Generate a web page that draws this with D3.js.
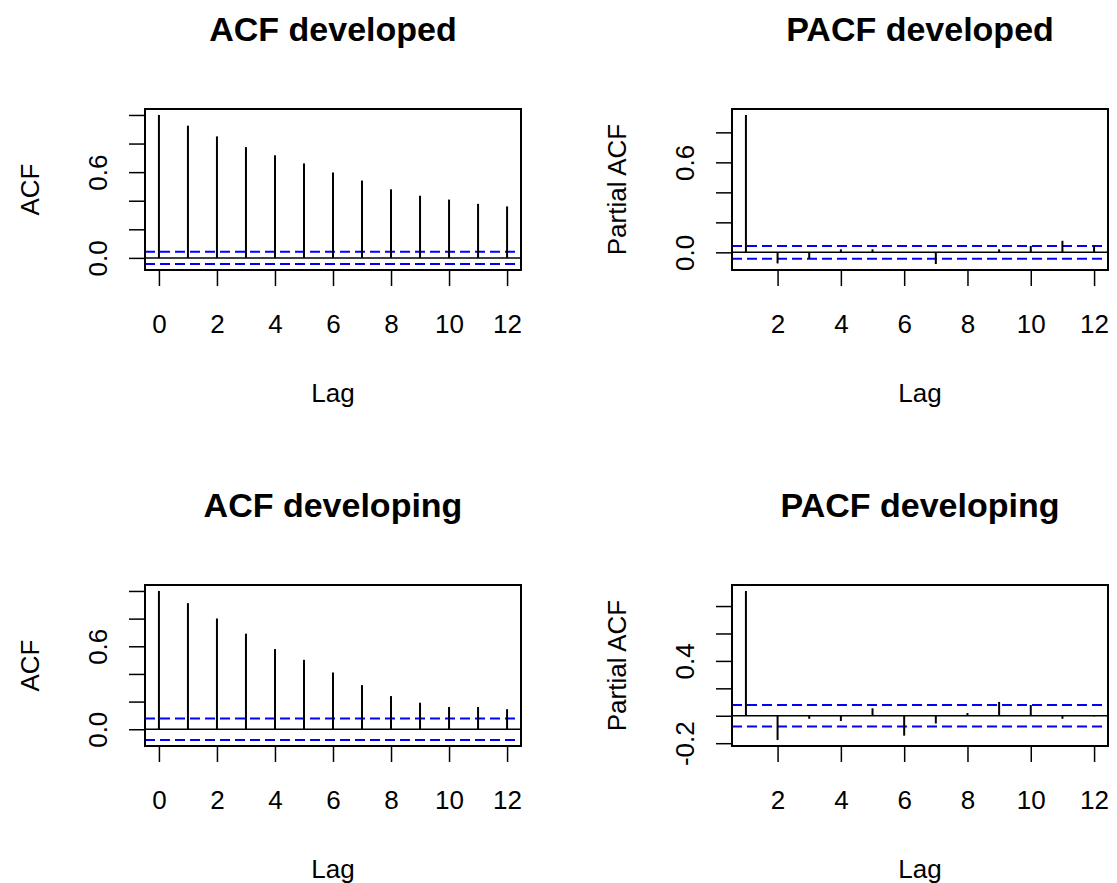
<!DOCTYPE html>
<html>
<head>
<meta charset="utf-8">
<script src="https://cdn.jsdelivr.net/npm/d3@7"></script>
<style>
  body { margin: 0; background: #fff; }
  svg { display: block; font-family: "Liberation Sans", Arial, sans-serif; }
</style>
</head>
<body>
<svg id="chart" width="1117" height="883"></svg>
<script>
const acfLags = [0, 1, 2, 3, 4, 5, 6, 7, 8, 9, 10, 11, 12];
const pacfLags = [1, 2, 3, 4, 5, 6, 7, 8, 9, 10, 11, 12];

const acfDeveloped = [1.0, 0.925, 0.850, 0.775, 0.718, 0.661, 0.598, 0.541, 0.480, 0.435, 0.408, 0.378, 0.360];
const pacfDeveloped = [0.916, -0.074, -0.042, 0.020, 0.020, 0.003, -0.078, 0.003, 0.020, 0.043, 0.077, 0.043];
const acfDeveloping = [1.0, 0.912, 0.801, 0.691, 0.580, 0.502, 0.410, 0.319, 0.240, 0.192, 0.161, 0.161, 0.145];
const pacfDeveloping = [0.910, -0.177, -0.022, -0.038, 0.054, -0.145, -0.056, 0.020, 0.101, 0.078, -0.022, -0.004];

// 95% bands drawn by R's acf()/pacf()
const ciDeveloped = 0.043;
const ciDeveloping = 0.078;

const acfXTicks = [0, 2, 4, 6, 8, 10, 12];
const pacfXTicks = [2, 4, 6, 8, 10, 12];
const acfDevelopedYLabels = [0.0, 0.6];
const pacfDevelopedYLabels = [0.0, 0.6];
const acfDevelopingYLabels = [0.0, 0.6];
const pacfDevelopingYLabels = [-0.2, 0.4];

class Correlogram {
  constructor(parent, box) {
    this.parent = parent;
    this.box = box;
  }

  draw(p) {
    const { left, top, width, height } = this.box;
    const g = d3.select(this.parent).append("g")
      .attr("transform", "translate(" + left + "," + top + ")");

    // R pads both ranges by 4%
    const lo = d3.min([-p.ci, ...p.values]);
    const hi = d3.max([p.ci, ...p.values]);
    const yPad = (hi - lo) * 0.04;
    const y = d3.scaleLinear().domain([lo - yPad, hi + yPad]).range([height, 0]);

    const xLo = d3.min(p.lags), xHi = d3.max(p.lags);
    const xPad = (xHi - xLo) * 0.04;
    const x = d3.scaleLinear().domain([xLo - xPad, xHi + xPad]).range([0, width]);

    const xAxis = g.append("g")
      .attr("transform", "translate(0," + height + ")")
      .call(d3.axisBottom(x).tickValues(p.xTicks).tickSize(16).tickFormat(d3.format("d")));
    xAxis.attr("font-size", 26).attr("font-family", null);
    xAxis.select(".domain").remove();
    xAxis.selectAll("line").attr("stroke", "#000").attr("stroke-width", 1.5);
    xAxis.selectAll("text").attr("y", 63).attr("dy", null).attr("fill", "#000");

    const shown = d => p.yLabels.some(v => Math.abs(v - d) < 1e-9);
    const yAxis = g.append("g")
      .call(d3.axisLeft(y).tickValues(y.ticks(5)).tickSize(16)
        .tickFormat(d => shown(d) ? d.toFixed(1) : ""));
    yAxis.attr("font-size", 26).attr("font-family", null);
    yAxis.select(".domain").remove();
    yAxis.selectAll("line").attr("stroke", "#000").attr("stroke-width", 1.5);
    yAxis.selectAll("text")
      .attr("x", 0).attr("y", 0).attr("dy", null)
      .attr("text-anchor", "middle")
      .attr("fill", "#000")
      .attr("transform", "translate(-38.5,0) rotate(-90)");

    g.selectAll(".ci")
      .data([p.ci, -p.ci])
      .join("line")
      .attr("class", "ci")
      .attr("x1", 0)
      .attr("x2", width)
      .attr("y1", d => y(d))
      .attr("y2", d => y(d))
      .attr("stroke", "#0000ff")
      .attr("stroke-width", 2)
      .attr("stroke-dasharray", "10,5");

    g.append("line")
      .attr("x1", 0)
      .attr("x2", width)
      .attr("y1", y(0))
      .attr("y2", y(0))
      .attr("stroke", "#000")
      .attr("stroke-width", 1.5);

    g.selectAll(".spike")
      .data(p.lags.map((lag, i) => ({ lag, v: p.values[i] })))
      .join("line")
      .attr("class", "spike")
      .attr("x1", d => x(d.lag))
      .attr("x2", d => x(d.lag))
      .attr("y1", y(0))
      .attr("y2", d => y(d.v))
      .attr("stroke", "#000")
      .attr("stroke-width", 2);

    g.append("rect")
      .attr("width", width)
      .attr("height", height)
      .attr("fill", "none")
      .attr("stroke", "#000")
      .attr("stroke-width", 2);

    g.append("text")
      .attr("x", width / 2)
      .attr("y", -68)
      .attr("text-anchor", "middle")
      .attr("font-size", 34)
      .attr("font-weight", "bold")
      .text(p.title);

    g.append("text")
      .attr("x", width / 2)
      .attr("y", height + 132)
      .attr("text-anchor", "middle")
      .attr("font-size", 26)
      .text("Lag");

    g.append("text")
      .attr("transform", "translate(-106.5," + height / 2 + ") rotate(-90)")
      .attr("text-anchor", "middle")
      .attr("font-size", 26)
      .text(p.ylab);
  }
}

const svg = document.getElementById("chart");

new Correlogram(svg, { left: 145, top: 109, width: 376, height: 161 }).draw({
  title: "ACF developed", ylab: "ACF", lags: acfLags, values: acfDeveloped,
  ci: ciDeveloped, xTicks: acfXTicks, yLabels: acfDevelopedYLabels
});
new Correlogram(svg, { left: 732, top: 109, width: 376, height: 161 }).draw({
  title: "PACF developed", ylab: "Partial ACF", lags: pacfLags, values: pacfDeveloped,
  ci: ciDeveloped, xTicks: pacfXTicks, yLabels: pacfDevelopedYLabels
});
new Correlogram(svg, { left: 145, top: 585, width: 376, height: 161 }).draw({
  title: "ACF developing", ylab: "ACF", lags: acfLags, values: acfDeveloping,
  ci: ciDeveloping, xTicks: acfXTicks, yLabels: acfDevelopingYLabels
});
new Correlogram(svg, { left: 732, top: 585, width: 376, height: 161 }).draw({
  title: "PACF developing", ylab: "Partial ACF", lags: pacfLags, values: pacfDeveloping,
  ci: ciDeveloping, xTicks: pacfXTicks, yLabels: pacfDevelopingYLabels
});
</script>
</body>
</html>
